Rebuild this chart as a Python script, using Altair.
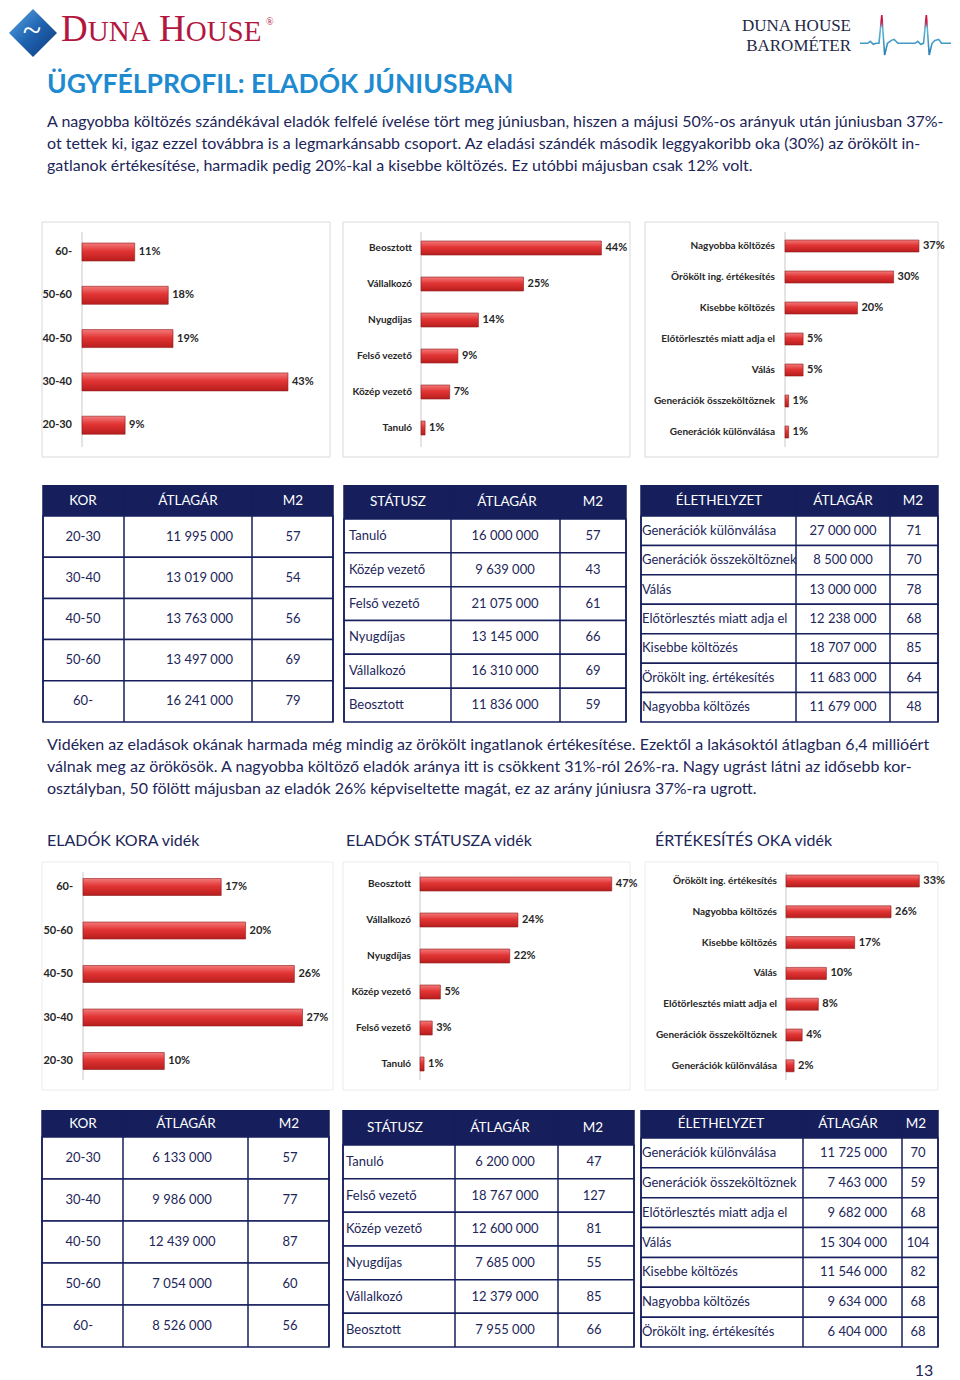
import altair as alt
import pandas as pd

# ---------------- data ----------------
age_cats = ["60-", "50-60", "40-50", "30-40", "20-30"]
age_june = [11, 18, 19, 43, 9]
status_cats = ["Beosztott", "Vállalkozó", "Nyugdijas", "Felső vezető", "Közép vezető", "Tanuló"]
status_june = [44, 25, 14, 9, 7, 1]
reason_cats = ["Nagyobba költözés", "Örökölt ing. értékesítés", "Kisebbe költözés",
               "Előtörlesztés miatt adja el", "Válás", "Generációk összeköltöznek",
               "Generációk különválása"]
reason_june = [37, 30, 20, 5, 5, 1, 1]

age_rural = [17, 20, 26, 27, 10]
status_rural_cats = ["Beosztott", "Vállalkozó", "Nyugdíjas", "Közép vezető", "Felső vezető", "Tanuló"]
status_rural = [47, 24, 22, 5, 3, 1]
reason_rural_cats = ["Örökölt ing. értékesítés", "Nagyobba költözés", "Kisebbe költözés", "Válás",
                     "Előtörlesztés miatt adja el", "Generációk összeköltöznek",
                     "Generációk különválása"]
reason_rural = [33, 26, 17, 10, 8, 4, 2]

t1_head = ["KOR", "ÁTLAGÁR", "M2"]
t1_cat = ["20-30", "30-40", "40-50", "50-60", "60-"]
t1_price = [11995000, 13019000, 13763000, 13497000, 16241000]
t1_m2 = [57, 54, 56, 69, 79]

t2_head = ["STÁTUSZ", "ÁTLAGÁR", "M2"]
t2_cat = ["Tanuló", "Közép vezető", "Felső vezető", "Nyugdíjas", "Vállalkozó", "Beosztott"]
t2_price = [16000000, 9639000, 21075000, 13145000, 16310000, 11836000]
t2_m2 = [57, 43, 61, 66, 69, 59]

t3_head = ["ÉLETHELYZET", "ÁTLAGÁR", "M2"]
t3_cat = ["Generációk különválása", "Generációk összeköltöznek", "Válás",
          "Előtörlesztés miatt adja el", "Kisebbe költözés", "Örökölt ing. értékesítés",
          "Nagyobba költözés"]
t3_price = [27000000, 8500000, 13000000, 12238000, 18707000, 11683000, 11679000]
t3_m2 = [71, 70, 78, 68, 85, 64, 48]

t4_cat = ["20-30", "30-40", "40-50", "50-60", "60-"]
t4_price = [6133000, 9986000, 12439000, 7054000, 8526000]
t4_m2 = [57, 77, 87, 60, 56]

t5_cat = ["Tanuló", "Felső vezető", "Közép vezető", "Nyugdíjas", "Vállalkozó", "Beosztott"]
t5_price = [6200000, 18767000, 12600000, 7685000, 12379000, 7955000]
t5_m2 = [47, 127, 81, 55, 85, 66]

t6_cat = ["Generációk különválása", "Generációk összeköltöznek", "Előtörlesztés miatt adja el",
          "Válás", "Kisebbe költözés", "Nagyobba költözés", "Örökölt ing. értékesítés"]
t6_price = [11725000, 7463000, 9682000, 15304000, 11546000, 9634000, 6404000]
t6_m2 = [70, 59, 68, 104, 82, 68, 68]

title_text = "ÜGYFÉLPROFIL: ELADÓK JÚNIUSBAN"
para1 = [
    "A nagyobba költözés szándékával eladók felfelé ívelése tört meg júniusban, hiszen a májusi 50%-os arányuk után júniusban 37%-",
    "ot tettek ki, igaz ezzel továbbra is a legmarkánsabb csoport. Az eladási szándék második leggyakoribb oka (30%) az örökölt in-",
    "gatlanok értékesítése, harmadik pedig 20%-kal a kisebbe költözés. Ez utóbbi májusban csak 12% volt.",
]
para2 = [
    "Vidéken az eladások okának harmada még mindig az örökölt ingatlanok értékesítése. Ezektől a lakásoktól átlagban 6,4 millióért",
    "válnak meg az örökösök. A nagyobba költöző eladók aránya itt is csökkent 31%-ról 26%-ra. Nagy ugrást látni az idősebb kor-",
    "osztályban, 50 fölött májusban az eladók 26% képviseltette magát, ez az arány júniusra 37%-ra ugrott.",
]
section_titles = ["ELADÓK KORA vidék", "ELADÓK STÁTUSZA vidék", "ÉRTÉKESÍTÉS OKA vidék"]
brand_parts = ["D", "UNA", "H", "OUSE"]
barometer_lines = ["DUNA HOUSE", "BAROMÉTER"]
page_number = ["13"]

ecg_t = [0, 8, 11, 14, 17, 20, 23, 26, 29, 33, 36, 40, 58, 61, 64, 67, 70, 73, 76, 79, 83, 86, 90, 96]
ecg_v = [0, 0, 2, -1, 0, 0, 29, -12, 0, 3, 4, 0, 0, 2, -1, 0, 29, -12, 0, 3, 4, 0, 0, 0]

# ---------------- styles ----------------
FONT = "Lato"
SERIF = "Liberation Serif"
NAVY = "#161f5c"
TXT = "#1d2659"
BLUE = "#1e8ad0"
CRIMSON = "#b3173f"
PAGE_W, PAGE_H = 944, 1372

BAR_GRAD = alt.Gradient(
    gradient="linear", x1=0, x2=0, y1=0, y2=1,
    stops=[alt.GradientStop(color="#f37b7b", offset=0),
           alt.GradientStop(color="#e23434", offset=0.45),
           alt.GradientStop(color="#b81d1d", offset=1)])

ONE = pd.DataFrame({"a": [0]})


def fmt(v):
    return f"{v:,}".replace(",", " ")


def bar_panel(cats, vals, ox, oy, W, H, axis_x, ppp, label_right, first_c, step, bw, label_size, box_color):
    n = len(cats)
    df = pd.DataFrame({"cat": cats, "v": vals})
    pi = 1 - bw / step
    r0 = oy + first_c - step / 2
    r1 = r0 + n * step
    xmax = (W - axis_x) / ppp
    xs = alt.Scale(domain=[0, xmax], range=[ox + axis_x, ox + W], nice=False, zero=False)
    ys = alt.Scale(domain=cats, range=[r0, r1], paddingInner=pi, paddingOuter=pi / 2)
    y = alt.Y("cat:N", scale=ys, axis=None, sort=None)
    box = alt.Chart(ONE).mark_rect(fill="transparent", stroke=box_color, strokeWidth=1).encode(
        x=alt.value(ox), x2=alt.value(ox + W), y=alt.value(oy), y2=alt.value(oy + H))
    axis_rule = alt.Chart(ONE).mark_rule(color="#c9c9c9", strokeWidth=1).encode(
        x=alt.value(ox + axis_x), y=alt.value(oy + 10), y2=alt.value(oy + H - 10))
    bars = alt.Chart(df).mark_bar(color=BAR_GRAD, stroke="#8e1b1b", strokeWidth=0.6).encode(
        x=alt.X("v:Q", scale=xs, axis=None), y=y)
    vtxt = alt.Chart(df).transform_calculate(lbl="datum.v + '%'").mark_text(
        align="left", baseline="middle", dx=4, font=FONT, fontSize=11, fontWeight="bold",
        color="#262626").encode(x=alt.X("v:Q", scale=xs, axis=None), y=y, text="lbl:N")
    ctxt = alt.Chart(df).mark_text(
        align="right", baseline="middle", font=FONT, fontSize=label_size, fontWeight="bold",
        color="#262626").encode(x=alt.value(ox + label_right), y=y, text="cat:N")
    return [box, axis_rule, bars, vtxt, ctxt]


def table_panel(head, c0, c1, c2, ox, oy, W, H, hh, edges, body, head_x, fsize=13):
    n = len(c0)
    df = pd.DataFrame({"r": list(range(n)), "c0": c0,
                       "c1": [fmt(v) for v in c1], "c2": [str(v) for v in c2]})
    ys = alt.Scale(domain=list(range(n)), range=[oy + hh, oy + H], paddingInner=0, paddingOuter=0)
    y = alt.Y("r:O", scale=ys, axis=None)
    hdf = pd.DataFrame({"h": head})
    layers = [
        alt.Chart(df).mark_rect(fill="white", stroke=NAVY, strokeWidth=1.5).encode(
            x=alt.value(ox), x2=alt.value(ox + W), y=y),
        alt.Chart(ONE).mark_rect(fill=NAVY).encode(
            x=alt.value(ox), x2=alt.value(ox + W), y=alt.value(oy), y2=alt.value(oy + hh)),
    ]
    for e in edges:
        layers.append(alt.Chart(ONE).mark_rule(color=NAVY, strokeWidth=1.5).encode(
            x=alt.value(ox + e), y=alt.value(oy), y2=alt.value(oy + H)))
    for i, hx in enumerate(head_x):
        layers.append(alt.Chart(hdf.iloc[[i]]).mark_text(
            align="center", baseline="middle", font=FONT, fontSize=13.5, color="white").encode(
            x=alt.value(ox + hx), y=alt.value(oy + hh / 2), text="h:N"))
    for field, (bx, al) in zip(["c0", "c1", "c2"], body):
        layers.append(alt.Chart(df).mark_text(
            align=al, baseline="middle", font=FONT, fontSize=fsize, color=TXT).encode(
            x=alt.value(ox + bx), y=y, text=f"{field}:N"))
    return layers


def lines_layer(lines, x, y0, y1, size, color):
    df = pd.DataFrame({"i": list(range(len(lines))), "t": lines})
    return alt.Chart(df).mark_text(
        align="left", baseline="middle", font=FONT, fontSize=size, color=color).encode(
        x=alt.value(x),
        y=alt.Y("i:O", scale=alt.Scale(type="point", domain=list(range(len(lines))),
                                       range=[y0, y1], padding=0), axis=None),
        text="t:N")


layers = []

# ---------------- header ----------------
logo_grad = alt.Gradient(
    gradient="linear", x1=0, x2=1, y1=0, y2=1,
    stops=[alt.GradientStop(color="#5aa7e6", offset=0),
           alt.GradientStop(color="#1f63b0", offset=0.5),
           alt.GradientStop(color="#0f3a7c", offset=1)])
layers.append(alt.Chart(ONE).mark_point(shape="diamond", filled=True, color=logo_grad, opacity=1,
                                        size=2304).encode(x=alt.value(25), y=alt.value(25)))
layers.append(alt.Chart(ONE).mark_text(text="~", font=SERIF, fontSize=34, color="white",
                                       baseline="middle", align="center").encode(
    x=alt.value(24), y=alt.value(23)))

brand_df = pd.DataFrame({"t": brand_parts})
brand_x = [53, 79.7, 151, 177.7]
brand_size = [37, 29, 37, 29]
for i in range(len(brand_parts)):
    layers.append(alt.Chart(brand_df.iloc[[i]]).mark_text(
        align="left", baseline="alphabetic", font=SERIF, fontSize=brand_size[i], color=CRIMSON).encode(
        x=alt.value(brand_x[i]), y=alt.value(33), text="t:N"))
layers.append(alt.Chart(ONE).mark_text(text="®", font=SERIF, fontSize=10, color=CRIMSON,
                                       align="left", baseline="alphabetic").encode(
    x=alt.value(258), y=alt.value(17)))

baro_df = pd.DataFrame({"t": barometer_lines})
for i, yy in enumerate([23, 43]):
    layers.append(alt.Chart(baro_df.iloc[[i]]).mark_text(
        align="right", baseline="alphabetic", font=SERIF, fontSize=17, color="#1e2846").encode(
        x=alt.value(843), y=alt.value(yy), text="t:N"))

ecg_grad = alt.Gradient(
    gradient="linear", x1=0, x2=0, y1=0, y2=1,
    stops=[alt.GradientStop(color="#cc1240", offset=0),
           alt.GradientStop(color="#cc1240", offset=0.15),
           alt.GradientStop(color="#5db9da", offset=0.35),
           alt.GradientStop(color="#2a7eb2", offset=1)])
layers.append(alt.Chart(pd.DataFrame({"t": ecg_t, "v": ecg_v})).mark_line(
    stroke=ecg_grad, strokeWidth=1.6, interpolate="linear").encode(
    x=alt.X("t:Q", scale=alt.Scale(domain=[0, 96], range=[852, 943], nice=False, zero=False), axis=None),
    y=alt.Y("v:Q", scale=alt.Scale(domain=[-12, 29], range=[47, 7], nice=False, zero=False), axis=None),
    order="t:Q"))

layers.append(alt.Chart(pd.DataFrame({"t": [title_text]})).mark_text(
    align="left", baseline="middle", font=FONT, fontSize=26.5, fontWeight="bold", color=BLUE).encode(
    x=alt.value(39), y=alt.value(77), text="t:N"))
layers.append(lines_layer(para1, 39, 114, 158, 16, TXT))

# ---------------- june charts & tables ----------------
BOX1 = "#d9d9d9"
BOX2 = "#ececec"
layers += bar_panel(age_cats, age_june, 34, 214, 288, 235, 40, 4.79, 30, 30, 43.3, 18, 11, BOX1)
layers += bar_panel(status_cats, status_june, 335, 214, 287, 235, 78, 4.1, 69, 26, 36, 14, 10, BOX1)
layers += bar_panel(reason_cats, reason_june, 637, 214, 293, 235, 140, 3.62, 130, 24, 31, 12, 10, BOX1)

layers += table_panel(t1_head, t1_cat, t1_price, t1_m2, 35, 477, 290, 237, 31, [0, 81, 209, 290],
                      [(40, "center"), (190, "right"), (250, "center")], [40, 145, 250])
layers += table_panel(t2_head, t2_cat, t2_price, t2_m2, 336, 477, 282, 237, 34, [0, 107, 216, 282],
                      [(5, "left"), (161, "center"), (249, "center")], [54, 163, 249])
layers += table_panel(t3_head, t3_cat, t3_price, t3_m2, 633, 477, 297, 237, 31, [0, 155, 249, 297],
                      [(1, "left"), (202, "center"), (273, "center")], [78, 202, 272])

# ---------------- middle text ----------------
layers.append(lines_layer(para2, 39, 737, 781, 16, TXT))
sec_df = pd.DataFrame({"t": section_titles})
for i, sx in enumerate([39, 338, 647]):
    layers.append(alt.Chart(sec_df.iloc[[i]]).mark_text(
        align="left", baseline="middle", font=FONT, fontSize=16, color=TXT).encode(
        x=alt.value(sx), y=alt.value(833), text="t:N"))

# ---------------- rural charts & tables ----------------
layers += bar_panel(age_cats, age_rural, 34, 854, 291, 228, 41, 8.13, 31, 25, 43.5, 17, 11, BOX2)
layers += bar_panel(status_rural_cats, status_rural, 335, 854, 287, 228, 77, 4.08, 68, 22, 36, 14, 10, BOX2)
layers += bar_panel(reason_rural_cats, reason_rural, 637, 854, 293, 228, 141, 4.04, 132, 19, 30.8, 12, 10, BOX2)

layers += table_panel(t1_head, t4_cat, t4_price, t4_m2, 34, 1102, 287, 237, 27, [0, 81, 206, 287],
                      [(41, "center"), (140, "center"), (248, "center")], [41, 144, 247])
layers += table_panel(t2_head, t5_cat, t5_price, t5_m2, 335, 1102, 291, 237, 35, [0, 112, 215, 291],
                      [(3, "left"), (162, "center"), (251, "center")], [52, 157, 250])
layers += table_panel(t3_head, t6_cat, t6_price, t6_m2, 633, 1102, 297, 237, 28, [0, 162, 261, 297],
                      [(1, "left"), (246, "right"), (277, "center")], [80, 207, 275])

layers.append(alt.Chart(pd.DataFrame({"t": page_number})).mark_text(
    align="center", baseline="middle", font=FONT, fontSize=16, color=TXT).encode(
    x=alt.value(916), y=alt.value(1363), text="t:N"))

chart = alt.layer(*layers).resolve_scale(x="independent", y="independent").properties(
    width=PAGE_W, height=PAGE_H, padding=0, background="white",
    autosize=alt.AutoSizeParams(type="none")
).configure_view(stroke="transparent", strokeWidth=0)

chart.save("out.html", embed_options={"renderer": "svg", "actions": False})
